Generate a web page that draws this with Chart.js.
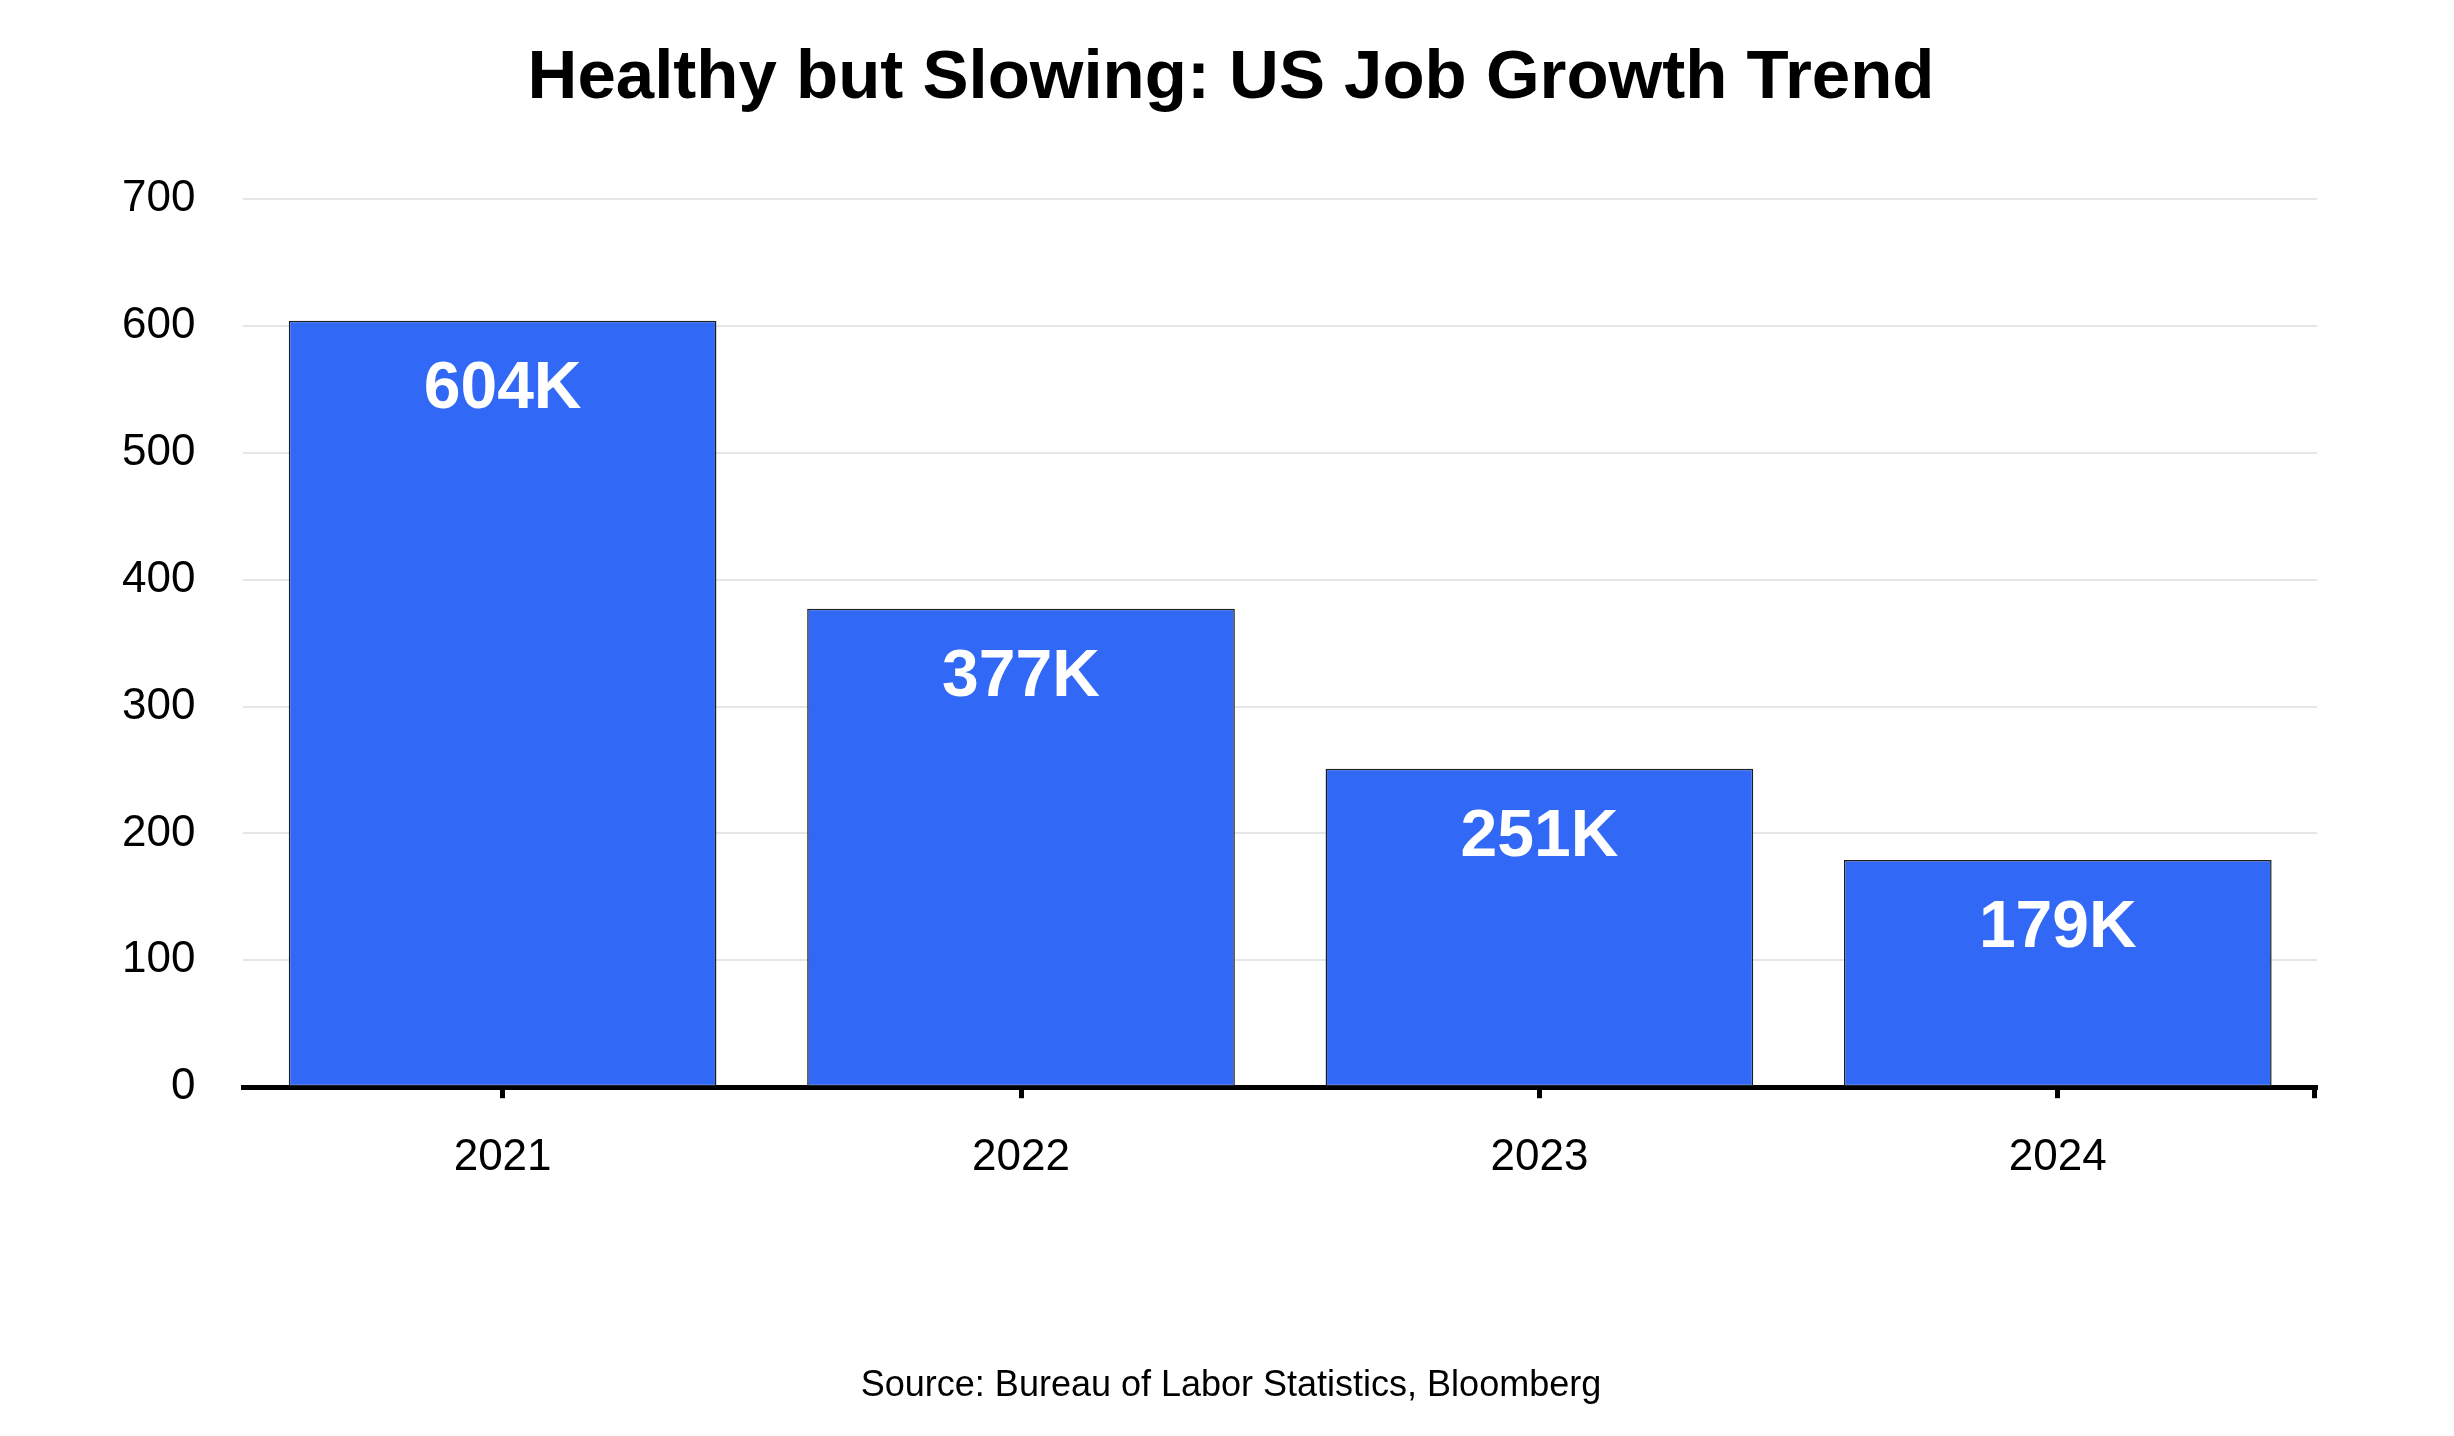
<!DOCTYPE html>
<html>
<head>
<meta charset="utf-8">
<script src="https://cdn.jsdelivr.net/npm/chart.js@4.4.1/dist/chart.umd.min.js"></script>
<style>
  html, body { margin: 0; padding: 0; background: #fff; }
  #wrap { width: 2454px; height: 1436px; }
</style>
</head>
<body>
<div id="wrap"><canvas id="graficoEmpregos"></canvas></div>
<script>
// dados do gráfico
const anos = ['2021', '2022', '2023', '2024'];
const empregos = [604, 377, 251, 179];
const rotulos = ['604K', '377K', '251K', '179K'];
const yMin = 0;
const yMax = 700;
const yPasso = 100;

const titulo = 'Healthy but Slowing: US Job Growth Trend';
const fonteDados = 'Source: Bureau of Labor Statistics, Bloomberg';

const FONTE = '"Liberation Sans", Arial, sans-serif';

// rótulos brancos dentro das barras
const rotulosBarras = {
    id: 'rotulosBarras',
    afterDatasetsDraw(chart) {
        const ctx = chart.ctx;
        const meta = chart.getDatasetMeta(0);
        ctx.save();
        ctx.fillStyle = '#ffffff';
        ctx.font = 'bold 66px ' + FONTE;
        ctx.textAlign = 'center';
        ctx.textBaseline = 'middle';
        meta.data.forEach((bar, i) => {
            ctx.fillText(rotulos[i], bar.x, bar.y + 69);
        });
        ctx.restore();
    }
};

// título, fonte e traço no fim do eixo x
const extras = {
    id: 'extras',
    afterDraw(chart) {
        const ctx = chart.ctx;
        const area = chart.chartArea;
        ctx.save();
        ctx.strokeStyle = '#000';
        ctx.lineWidth = 5;
        ctx.beginPath();
        ctx.moveTo(area.right - 2.5, area.bottom);
        ctx.lineTo(area.right - 2.5, area.bottom + 11);
        ctx.stroke();

        ctx.fillStyle = '#000';
        ctx.textAlign = 'center';
        ctx.textBaseline = 'middle';
        ctx.font = 'bold 69px ' + FONTE;
        ctx.fillText(titulo, 1231, 79);
        ctx.font = '36px ' + FONTE;
        ctx.fillText(fonteDados, 1231, 1386);
        ctx.restore();
    }
};

document.addEventListener('DOMContentLoaded', () => {
    const ctx = document.getElementById('graficoEmpregos');
    new Chart(ctx, {
        type: 'bar',
        data: {
            labels: anos,
            datasets: [{
                label: 'Job growth (K)',
                data: empregos,
                backgroundColor: '#3168f5',
                borderColor: '#1f1f1f',
                borderWidth: 1.5,
                borderSkipped: false,
                categoryPercentage: 1,
                barPercentage: 0.825
            }]
        },
        options: {
            responsive: true,
            maintainAspectRatio: false,
            devicePixelRatio: 1,
            animation: false,
            layout: { padding: { left: 74, right: 137, top: 199, bottom: 219 } },
            scales: {
                x: {
                    grid: {
                        display: true,
                        drawOnChartArea: false,
                        drawTicks: true,
                        offset: false,
                        tickLength: 11,
                        tickWidth: 5,
                        tickColor: '#000'
                    },
                    border: { display: true, color: '#000', width: 5 },
                    ticks: {
                        color: '#000',
                        padding: 33,
                        font: { family: FONTE, size: 44 }
                    }
                },
                y: {
                    min: yMin,
                    max: yMax,
                    grid: { color: '#e6e6e6', lineWidth: 2, drawTicks: false },
                    border: { display: false },
                    ticks: {
                        stepSize: yPasso,
                        color: '#000',
                        padding: 48,
                        font: { family: FONTE, size: 44 }
                    }
                }
            },
            plugins: {
                legend: { display: false },
                tooltip: { enabled: false }
            }
        },
        plugins: [rotulosBarras, extras]
    });
});
</script>
</body>
</html>
